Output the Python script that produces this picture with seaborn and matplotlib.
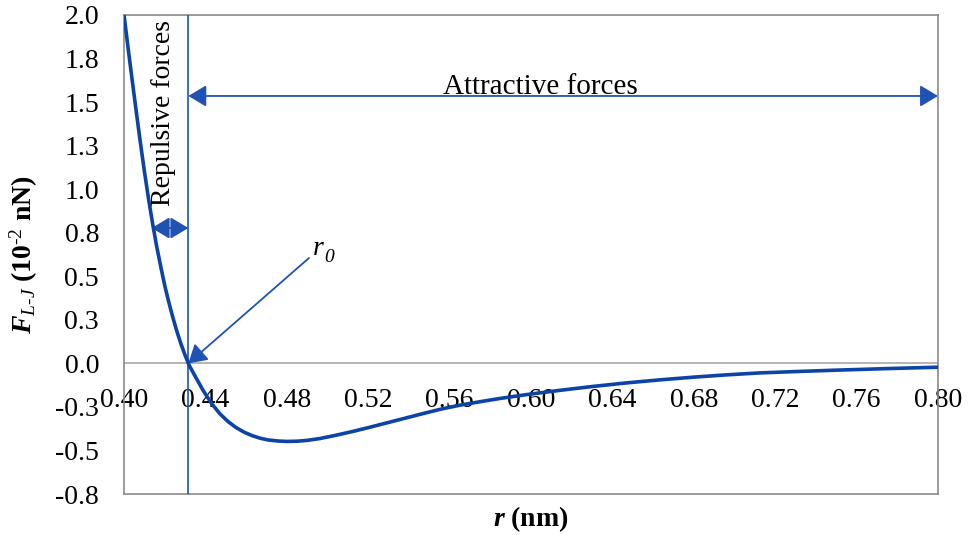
import numpy as np
import pandas as pd
import matplotlib
matplotlib.use("Agg")
import matplotlib.pyplot as plt
import seaborn as sns

# Lennard-Jones force vs separation
r_nm = [0.400, 0.402, 0.404, 0.406, 0.408, 0.410, 0.412, 0.414, 0.416, 0.418,
        0.420, 0.422, 0.424, 0.426, 0.428, 0.430, 0.432, 0.435, 0.439, 0.443,
        0.447, 0.451, 0.455, 0.459, 0.463, 0.467, 0.471, 0.476, 0.480, 0.485,
        0.490, 0.496, 0.504, 0.512, 0.520, 0.529, 0.538, 0.547, 0.556, 0.565,
        0.575, 0.585, 0.598, 0.614, 0.630, 0.647, 0.663, 0.680, 0.696, 0.712,
        0.730, 0.750, 0.775, 0.800]
f_lj = [2.000, 1.810, 1.626, 1.446, 1.270, 1.103, 0.948, 0.805, 0.674, 0.558,
        0.447, 0.351, 0.263, 0.183, 0.111, 0.047, -0.011, -0.075, -0.158, -0.230,
        -0.288, -0.333, -0.368, -0.395, -0.415, -0.430, -0.440, -0.446, -0.448, -0.447,
        -0.442, -0.432, -0.413, -0.392, -0.369, -0.342, -0.315, -0.288, -0.262, -0.240,
        -0.220, -0.201, -0.179, -0.155, -0.133, -0.112, -0.095, -0.079, -0.066, -0.055,
        -0.047, -0.039, -0.030, -0.022]

r0 = 0.4316

x_ticks = [0.40, 0.44, 0.48, 0.52, 0.56, 0.60, 0.64, 0.68, 0.72, 0.76, 0.80]
x_tick_labels = ['0.40', '0.44', '0.48', '0.52', '0.56', '0.60', '0.64', '0.68',
                 '0.72', '0.76', '0.80']
y_ticks = [-0.75, -0.5, -0.25, 0.0, 0.25, 0.5, 0.75, 1.0, 1.25, 1.5, 1.75, 2.0]
y_tick_labels = ['-0.8', '-0.5', '-0.3', '0.0', '0.3', '0.5', '0.8', '1.0',
                 '1.3', '1.5', '1.8', '2.0']

sns.set_style("white")
plt.rcParams['font.family'] = ['Liberation Serif', 'DejaVu Serif']
plt.rcParams['text.color'] = 'black'
plt.rcParams['axes.labelcolor'] = 'black'
plt.rcParams['xtick.color'] = 'black'
plt.rcParams['ytick.color'] = 'black'
plt.rcParams['mathtext.fontset'] = 'custom'
plt.rcParams['mathtext.rm'] = 'Liberation Serif'
plt.rcParams['mathtext.it'] = 'Liberation Serif:italic'
plt.rcParams['mathtext.bf'] = 'Liberation Serif:bold'
plt.rcParams['mathtext.bfit'] = 'Liberation Serif:italic:bold'

curve_color = '#0b43a6'
line_color = '#1f52b2'
frame_color = '#8a8a8a'

fig, ax = plt.subplots(figsize=(9.69, 5.35), dpi=100)
fig.subplots_adjust(left=0.128, right=0.968, top=0.972, bottom=0.0766)

df = pd.DataFrame({'r': r_nm, 'F': f_lj})
sns.lineplot(data=df, x='r', y='F', ax=ax, color=curve_color, lw=2.6, zorder=4)

ax.set_xlim(0.40, 0.80)
ax.set_ylim(-0.75, 2.0)

# y axis
ax.set_yticks(y_ticks)
ax.set_yticklabels(y_tick_labels, fontsize=20)
ax.tick_params(axis='y', length=0, pad=18, labelcolor='black')

# x axis: labels sit along the zero line
ax.set_xticks(x_ticks)
ax.tick_params(axis='x', length=0, labelbottom=False)
sec = ax.secondary_xaxis(0.75 / 2.75)
sec.set_xticks(x_ticks)
sec.set_xticklabels(x_tick_labels, fontsize=20)
sec.tick_params(axis='x', length=0, pad=18, labelcolor='black')
sec.spines['bottom'].set_color('#a8a8a8')
sec.spines['bottom'].set_linewidth(1.2)

for s in ax.spines.values():
    s.set_color(frame_color)
    s.set_linewidth(1.2)

ax.set_xlabel(r'$\mathbfit{r}$ (nm)', fontsize=20, fontweight='bold', color='black')
ax.xaxis.set_label_coords(0.5, -0.022)
ax.set_ylabel(r'$\mathbfit{F}_{\mathit{L}\text{-}\mathit{J}}$ (10$^{\text{-2}}$ nN)',
              fontsize=20, fontweight='bold', color='black')
ax.yaxis.set_label_coords(-0.103, 0.5)

# r0 marker line
ax.axvline(r0, color=line_color, lw=1.2, zorder=3)

head = '<|-|>,head_length=0.55,head_width=0.33'
ax.annotate('', xy=(r0, 1.535), xytext=(0.80, 1.535),
            arrowprops=dict(arrowstyle=head, color=line_color, lw=1.3,
                            mutation_scale=20, shrinkA=0, shrinkB=0))
ax.text(0.6044, 1.545, 'Attractive forces', ha='center', va='baseline', fontsize=21)

ax.annotate('', xy=(0.4136, 0.777), xytext=(r0, 0.777),
            arrowprops=dict(arrowstyle=head, color=line_color, lw=1.3,
                            mutation_scale=20, shrinkA=0, shrinkB=0))
ax.text(0.4195, 1.435, 'Repulsive forces', rotation=90, ha='center', va='center',
        fontsize=20)

ax.annotate('', xy=(r0, 0.0), xytext=(0.4909, 0.605),
            arrowprops=dict(arrowstyle='-|>,head_length=0.55,head_width=0.33',
                            color=line_color, lw=1.3, mutation_scale=20,
                            shrinkA=0, shrinkB=0))
ax.text(0.4929, 0.622, 'r', ha='left', va='baseline', fontsize=20, style='italic')
ax.annotate('0', xy=(0.4929, 0.622), xytext=(8, -5), textcoords='offset points',
            ha='left', va='baseline', fontsize=14, style='italic')

fig.savefig('out.png', dpi=100)
